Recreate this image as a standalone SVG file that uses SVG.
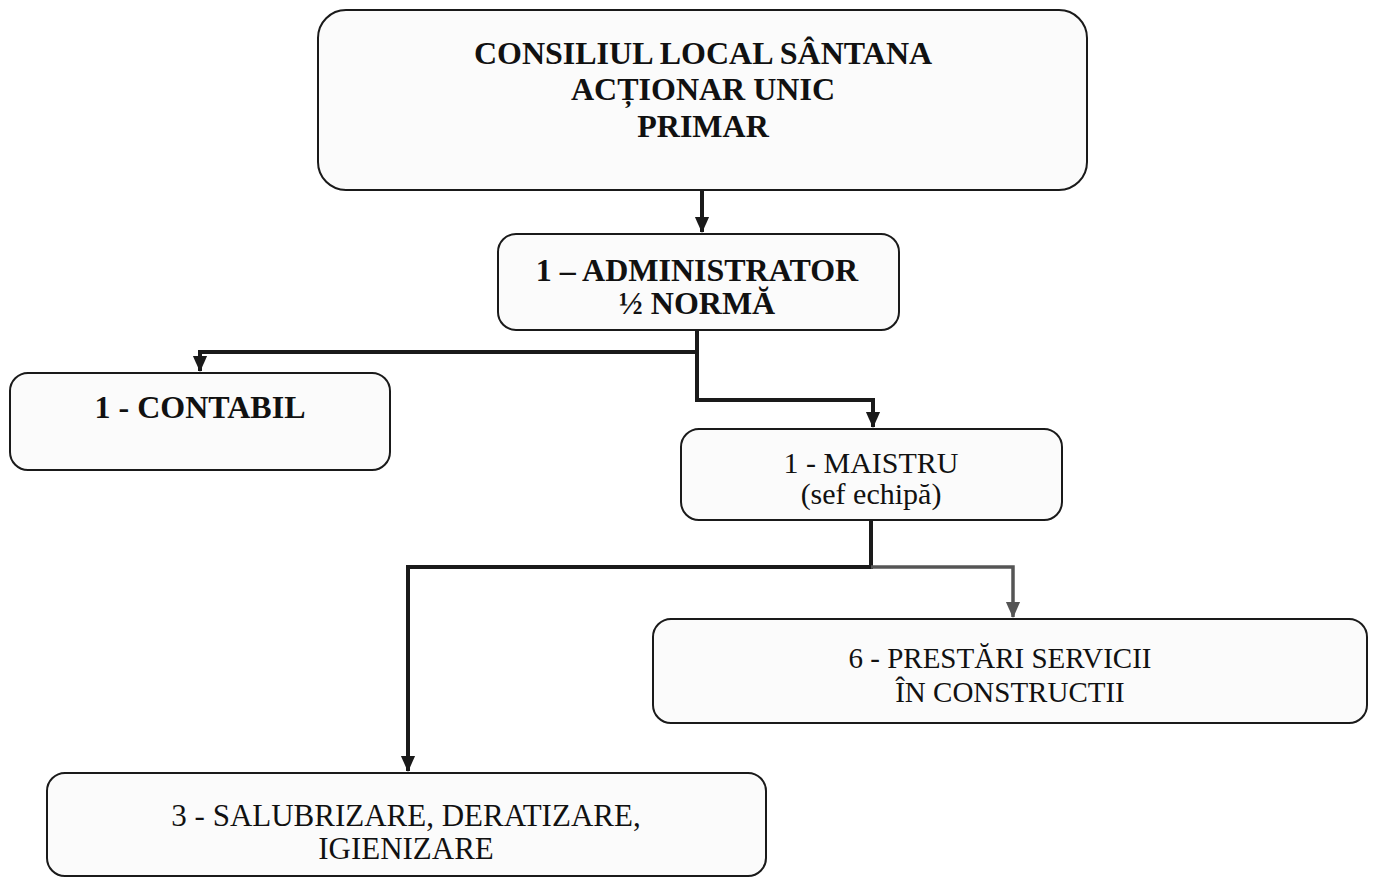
<svg xmlns="http://www.w3.org/2000/svg" width="1378" height="879" viewBox="0 0 1378 879">
<style>
.box{fill:#fbfbfb;stroke:#1a1a1a;stroke-width:2}
text{font-family:'Liberation Serif','DejaVu Serif',serif;fill:#111;text-anchor:middle}
.b{font-weight:bold}
.c{fill:none;stroke:#1a1a1a;stroke-width:4}
.cg{fill:none;stroke:#555;stroke-width:3.5}
</style>
<defs>
<marker id="ah2" markerUnits="userSpaceOnUse" markerWidth="16" markerHeight="18" refX="17" refY="8" orient="auto" viewBox="0 0 18 16">
<path d="M0,0 L18,8 L0,16 Z" fill="#1a1a1a"/>
</marker>
<marker id="ahg" markerUnits="userSpaceOnUse" markerWidth="16" markerHeight="18" refX="17" refY="8" orient="auto" viewBox="0 0 18 16">
<path d="M0,0 L18,8 L0,16 Z" fill="#555"/>
</marker>
</defs>
<rect width="1378" height="879" fill="#ffffff"/>
<g id="connectors">
<path class="c" d="M702,190 V232" marker-end="url(#ah2)"/>
<path class="c" d="M697,330 V352 H200 V371" marker-end="url(#ah2)"/>
<path class="c" d="M697,352 V400 H873 V427" marker-end="url(#ah2)"/>
<path class="c" d="M871,520 V567 H408 V771" marker-end="url(#ah2)"/>
<path class="cg" d="M871,567 H1013 V617" marker-end="url(#ahg)"/>
</g>
<g id="n-consiliu">
<rect class="box" x="318" y="10" width="769" height="180" rx="28"/>
<text class="b" font-family="Liberation Serif, serif" font-size="32" x="703" y="64">CONSILIUL LOCAL SÂNTANA</text>
<text class="b" font-family="Liberation Serif, serif" font-size="32" x="703" y="100">ACȚIONAR UNIC</text>
<text class="b" font-family="Liberation Serif, serif" font-size="32" x="703" y="137">PRIMAR</text>
</g>
<g id="n-administrator">
<rect class="box" x="498" y="234" width="401" height="96" rx="18"/>
<text class="b" font-size="32" x="697" y="281">1 – ADMINISTRATOR</text>
<text class="b" font-size="32" x="697" y="314">½ NORMĂ</text>
</g>
<g id="n-contabil">
<rect class="box" x="10" y="373" width="380" height="97" rx="18"/>
<text class="b" font-size="32" x="200" y="418">1 - CONTABIL</text>
</g>
<g id="n-maistru">
<rect class="box" x="681" y="429" width="381" height="91" rx="18"/>
<text font-size="30" x="871" y="473">1 - MAISTRU</text>
<text font-size="30" x="871" y="504">(sef echipă)</text>
</g>
<g id="n-prestari">
<rect class="box" x="653" y="619" width="714" height="104" rx="18"/>
<text font-size="29" x="1000" y="668">6 - PRESTĂRI SERVICII</text>
<text font-size="29" x="1010" y="702">ÎN CONSTRUCTII</text>
</g>
<g id="n-salubrizare">
<rect class="box" x="47" y="773" width="719" height="103" rx="18"/>
<text font-size="31" x="406" y="826">3 - SALUBRIZARE, DERATIZARE,</text>
<text font-size="31" x="406" y="859">IGIENIZARE</text>
</g>
</svg>
